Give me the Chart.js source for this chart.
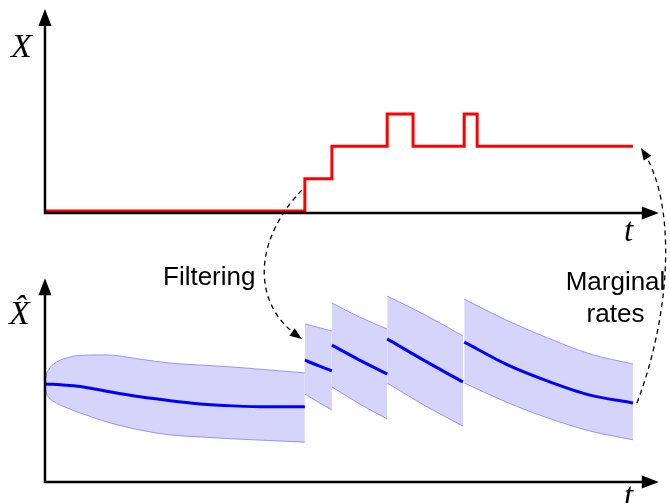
<!DOCTYPE html>
<html>
<head>
<meta charset="utf-8">
<script src="https://cdn.jsdelivr.net/npm/chart.js@4/dist/chart.umd.min.js"></script>
<style>
  html, body { margin: 0; padding: 0; background: #fff; overflow: hidden; }
  #wrap { position: relative; width: 670px; height: 503px; }
  #c { position: absolute; left: 0; top: 0; }
  .math { position: absolute; font-family: "Liberation Serif", "DejaVu Serif", serif; font-style: italic; line-height: 1; color: #000; white-space: nowrap; }
  .note { position: absolute; font-family: "Liberation Sans", Arial, sans-serif; font-size: 26px; color: #000; white-space: nowrap; }
</style>
</head>
<body>
<div id="wrap">
  <canvas id="c" width="670" height="503"></canvas>
  <div class="math" style="left:11px; top:29px; font-size:34px;">X</div>
  <div class="math" style="left:9px; top:296px; font-size:34px;">X&#770;</div>
  <div class="math" style="left:624px; top:214px; font-size:33px;">t</div>
  <div class="math" style="left:624px; top:479px; font-size:33px;">t</div>
  <div class="note" style="left:163px; top:263px; line-height:1;">Filtering</div>
  <div class="note" style="left:560px; top:265px; width:111px; text-align:center; line-height:32px;">Marginal<br>rates</div>
</div>
<script>
// ---- Top panel: observed jump process X(t) ----
const stepTimes  = [0, 4.42, 4.88, 5.82, 6.26, 7.13, 7.35, 10];
const stepLevels = [0, 1, 2, 3, 2, 3, 2, 2];

// ---- Bottom panel: filtered estimate X-hat, five segments (time, mean, upper, lower) ----
const seg1T    = [0, 0.02, 0.06, 0.14, 0.37, 0.65, 1.05, 1.62, 2.13, 2.64, 3.2, 3.8, 4.42];
const seg1Mean = [3.00, 3.00, 2.99, 2.99, 2.96, 2.91, 2.78, 2.61, 2.49, 2.39, 2.33, 2.30, 2.30];
const seg1Up   = [3.00, 3.26, 3.43, 3.60, 3.80, 3.88, 3.89, 3.76, 3.64, 3.58, 3.52, 3.43, 3.34];
const seg1Low  = [3.00, 2.74, 2.60, 2.47, 2.27, 2.08, 1.84, 1.59, 1.44, 1.38, 1.32, 1.27, 1.22];

const seg2T    = [4.42, 4.65, 4.88];
const seg2Mean = [3.73, 3.56, 3.40];
const seg2Up   = [4.84, 4.73, 4.62];
const seg2Low  = [2.69, 2.44, 2.20];

const seg3T    = [4.88, 5.35, 5.82];
const seg3Mean = [4.19, 3.73, 3.31];
const seg3Up   = [5.48, 5.05, 4.68];
const seg3Low  = [2.91, 2.39, 1.93];

const seg4T    = [5.82, 6.47, 7.11];
const seg4Mean = [4.38, 3.70, 3.06];
const seg4Up   = [5.69, 5.11, 4.47];
const seg4Low  = [3.03, 2.33, 1.71];

const seg5T    = [7.13, 7.84, 8.55, 9.27, 10];
const seg5Mean = [4.29, 3.61, 3.09, 2.66, 2.42];
const seg5Up   = [5.60, 4.96, 4.41, 3.92, 3.61];
const seg5Low  = [3.03, 2.45, 1.96, 1.56, 1.29];

// axis extents (in data units)
const T_TIP = 10.44;
const Y_TIP_TOP = 6.25;
const Y_TIP_BOT = 6.24;

const segments = [
  [seg1T, seg1Mean, seg1Up, seg1Low],
  [seg2T, seg2Mean, seg2Up, seg2Low],
  [seg3T, seg3Mean, seg3Up, seg3Low],
  [seg4T, seg4Mean, seg4Up, seg4Low],
  [seg5T, seg5Mean, seg5Up, seg5Low]
];

const pts = (xs, ys) => xs.map((x, i) => ({x: x, y: ys[i]}));

const datasets = [];
datasets.push({
  label: 'X',
  yAxisID: 'yTop',
  data: pts(stepTimes, stepLevels),
  stepped: 'before',
  borderColor: '#ff0000',
  borderWidth: 3,
  pointRadius: 0,
  fill: false,
  order: 0
});

const BAND_FILL = 'rgba(100,100,245,0.27)';
const BAND_EDGE = 'rgba(120,120,250,0.75)';
segments.forEach(([t, m, up, low], k) => {
  datasets.push({
    label: 'upper ' + (k + 1),
    yAxisID: 'yBot',
    data: pts(t, up),
    borderColor: BAND_EDGE,
    borderWidth: 1,
    backgroundColor: BAND_FILL,
    fill: '+1',
    pointRadius: 0,
    cubicInterpolationMode: 'monotone',
    order: 2
  });
  datasets.push({
    label: 'lower ' + (k + 1),
    yAxisID: 'yBot',
    data: pts(t, low),
    borderColor: BAND_EDGE,
    borderWidth: 1,
    fill: false,
    pointRadius: 0,
    cubicInterpolationMode: 'monotone',
    order: 2
  });
  datasets.push({
    label: 'mean ' + (k + 1),
    yAxisID: 'yBot',
    data: pts(t, m),
    borderColor: '#0000ff',
    borderWidth: 3,
    fill: false,
    pointRadius: 0,
    cubicInterpolationMode: 'monotone',
    order: 1
  });
});

function arrowHead(ctx, tipX, tipY, ang, len, half) {
  ctx.save();
  ctx.translate(tipX, tipY);
  ctx.rotate(ang);
  ctx.beginPath();
  ctx.moveTo(0, 0);
  ctx.lineTo(-len, -half);
  ctx.lineTo(-len, half);
  ctx.closePath();
  ctx.fill();
  ctx.restore();
}

const decorPlugin = {
  id: 'decor',
  afterDatasetsDraw(chart) {
    const ctx = chart.ctx;
    const xs = chart.scales.x, yt = chart.scales.yTop, yb = chart.scales.yBot;
    const x0 = xs.getPixelForValue(0);
    const xTip = xs.getPixelForValue(T_TIP);
    ctx.save();
    ctx.fillStyle = '#000';
    ctx.strokeStyle = '#000';
    ctx.lineWidth = 2.5;
    ctx.lineCap = 'butt';

    // top axes
    const yt0 = yt.getPixelForValue(0) + 2;
    const ytTip = yt.getPixelForValue(Y_TIP_TOP);
    ctx.beginPath();
    ctx.moveTo(x0, yt0 + 1.2); ctx.lineTo(x0, ytTip + 15);
    ctx.moveTo(x0 - 1.2, yt0); ctx.lineTo(xTip - 15, yt0);
    ctx.stroke();
    arrowHead(ctx, x0, ytTip, -Math.PI / 2, 17, 6.5);
    arrowHead(ctx, xTip, yt0, 0, 17, 6.5);

    // bottom axes
    const yb0 = yb.getPixelForValue(0);
    const ybTip = yb.getPixelForValue(Y_TIP_BOT);
    ctx.beginPath();
    ctx.moveTo(x0, yb0 + 1.2); ctx.lineTo(x0, ybTip + 15);
    ctx.moveTo(x0 - 1.2, yb0); ctx.lineTo(xTip - 15, yb0);
    ctx.stroke();
    arrowHead(ctx, x0, ybTip, -Math.PI / 2, 17, 6.5);
    arrowHead(ctx, xTip, yb0, 0, 17, 6.5);

    // dashed curved arrows
    ctx.lineWidth = 1.3;
    ctx.setLineDash([5, 4]);
    // Filtering: from first jump of X down to start of filtered band
    const fx = xs.getPixelForValue(stepTimes[1]) - 3;
    const f0 = {x: fx, y: yt.getPixelForValue(0.65)};
    const f3 = {x: fx, y: yb.getPixelForValue(4.38)};
    const f1 = {x: f0.x - 52, y: f0.y + 55};
    const f2 = {x: f3.x - 47, y: f3.y - 33};
    ctx.beginPath();
    ctx.moveTo(f0.x, f0.y);
    ctx.bezierCurveTo(f1.x, f1.y, f2.x, f2.y, f3.x - 4, f3.y - 2.8);
    ctx.stroke();
    // Marginal rates: from end of filtered mean up to end of X
    const mEnd = stepTimes[stepTimes.length - 1];
    const m0 = {x: xs.getPixelForValue(mEnd) + 4, y: yb.getPixelForValue(seg5Mean[seg5Mean.length - 1])};
    const m3 = {x: xs.getPixelForValue(mEnd) + 8, y: yt.getPixelForValue(1.95)};
    const m1 = {x: m0.x + 35, y: m0.y - 92};
    const m2 = {x: m3.x + 35, y: m3.y + 55};
    ctx.beginPath();
    ctx.moveTo(m0.x, m0.y);
    ctx.bezierCurveTo(m1.x, m1.y, m2.x, m2.y, m3.x + 2.5, m3.y + 4);
    ctx.stroke();
    ctx.setLineDash([]);
    arrowHead(ctx, f3.x, f3.y, Math.atan2(f3.y - f2.y, f3.x - f2.x), 12, 4.5);
    arrowHead(ctx, m3.x, m3.y, Math.atan2(m3.y - m2.y, m3.x - m2.x), 12, 4.5);
    ctx.restore();
  }
};

new Chart(document.getElementById('c'), {
  type: 'line',
  data: { datasets: datasets },
  options: {
    responsive: false,
    animation: false,
    layout: { padding: 0 },
    plugins: { legend: { display: false }, tooltip: { enabled: false } },
    scales: {
      x: { type: 'linear', min: -0.765, max: 10.63, display: false },
      yTop: { type: 'linear', min: -9.032, max: 6.526, display: false },
      yBot: { type: 'linear', min: -0.643, max: 14.754, display: false }
    }
  },
  plugins: [decorPlugin]
});
</script>
</body>
</html>
